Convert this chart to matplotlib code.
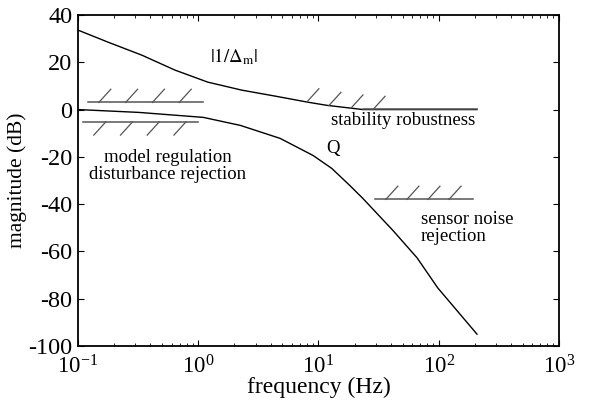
import numpy as np
import matplotlib
matplotlib.use("Agg")
import matplotlib.pyplot as plt
from matplotlib.ticker import LogLocator, LogFormatterMathtext, NullFormatter

plt.rcParams['font.family'] = ['Liberation Serif', 'DejaVu Serif']
plt.rcParams['mathtext.fontset'] = 'stix'
plt.rcParams['axes.unicode_minus'] = False

# |1/Delta_m| bound (Hz, dB)
inv_dm_freq = [0.1, 0.178, 0.34, 0.64, 1.2, 2.31, 4.35, 8.2, 11.7, 23.4, 208]
inv_dm_db = [33.6, 28.5, 23.0, 16.7, 11.6, 8.2, 5.7, 3.1, 1.8, 0.0, 0.0]

# Q (Hz, dB)
q_freq = [0.1, 0.32, 1.1, 2.24, 4.8, 9.0, 12.9, 18.2, 23.4, 41.7, 66.0, 98.0, 208]
q_db = [0.0, -1.2, -3.3, -6.7, -12.2, -19.4, -24.9, -32.1, -37.6, -51.2, -62.7, -75.4, -95.0]

# constraint levels: (f_lo, f_hi, dB)
model_reg = (0.121, 1.1, 3.0)
dist_rej = (0.110, 0.995, -5.2)
sensor_noise = (29.5, 193.0, -38.0)
stab_band = (8.0, 28.4)

fig = plt.figure(figsize=(6.01, 4.01), dpi=100)
ax = fig.add_axes([0.1298, 0.1372, 0.8003, 0.8254])

ax.semilogx(inv_dm_freq, inv_dm_db, color='black', lw=1.0)
ax.semilogx(q_freq, q_db, color='black', lw=1.0)

hc = '#555555'
dlog = 0.1   # slash width in decades
dh = 5.6     # slash height in dB


def hatch_line(lo, hi, lev, up=True):
    ax.plot([lo, hi], [lev, lev], color=hc, lw=1.1)
    for s in np.linspace(np.log10(lo) + 0.09, np.log10(hi) - 0.2, 4):
        if up:
            ax.plot([10**s, 10**(s + dlog)], [lev, lev + dh], color=hc, lw=0.9)
        else:
            ax.plot([10**s, 10**(s + dlog)], [lev - dh, lev], color=hc, lw=0.9)


hatch_line(*model_reg, up=True)
hatch_line(*dist_rej, up=False)
hatch_line(*sensor_noise, up=True)

# stability robustness hatches sit on the |1/Delta_m| curve
for s in np.linspace(np.log10(stab_band[0]), np.log10(stab_band[1]), 4):
    lev = np.interp(s, np.log10(inv_dm_freq), inv_dm_db)
    ax.plot([10**s, 10**(s + dlog)], [lev, lev + dh], color=hc, lw=0.9)
ax.plot([23.4, 208], [0.4, 0.4], color=hc, lw=1.1)

fs = 13.5
ax.text(1.98, 22.2, r'$|1/\Delta_{\rm m}|$', fontsize=fs, ha='center', va='center')
ax.text(12.7, -4.5, 'stability robustness', fontsize=fs, ha='left', va='center')
ax.text(13.2, -16.4, 'Q', fontsize=fs, ha='center', va='center')
ax.text(0.56, -24.0, 'model regulation\ndisturbance rejection', fontsize=fs,
        ha='center', va='center', linespacing=1.0)
ax.text(71, -50.1, 'sensor noise\nrejection', fontsize=fs, ha='left',
        va='center', linespacing=1.0)

ax.set_xlim(0.1, 1000)
ax.set_ylim(-100, 40)
ax.set_yticks([-100, -80, -60, -40, -20, 0, 20, 40])
ax.xaxis.set_major_locator(LogLocator(base=10, numticks=10))
ax.xaxis.set_major_formatter(LogFormatterMathtext())
ax.xaxis.set_minor_locator(LogLocator(base=10, subs=np.arange(2, 10), numticks=20))
ax.xaxis.set_minor_formatter(NullFormatter())
ax.tick_params(which='both', direction='in', top=True, right=True)
ax.tick_params(axis='y', pad=4, labelsize=17.5)
ax.tick_params(axis='x', pad=6.5, labelsize=16.5)
ax.tick_params(which='major', length=4, width=0.8)
ax.tick_params(which='minor', length=2, width=0.6)
for sp in ax.spines.values():
    sp.set_linewidth(1.3)

ax.set_xlabel('frequency (Hz)', fontsize=17, labelpad=-1)
ax.set_ylabel('magnitude (dB)', fontsize=15.5, labelpad=1)

fig.savefig('out.png', dpi=100)
